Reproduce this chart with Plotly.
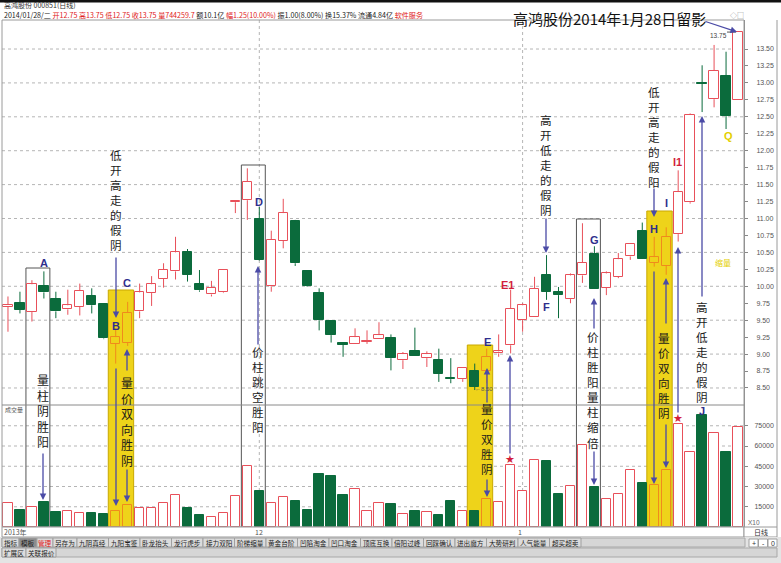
import numpy as np
import plotly.graph_objects as go

# ---------------- data ----------------
candle_idx = list(range(1, 63))
open_ = [9.70, 9.76, 9.62, 10.00, 9.82, 9.66, 9.70, 9.85, 9.74, 9.15,
         9.17, 9.63, 9.90, 10.11, 10.22, 10.50, 10.04, 9.88, 9.91, 11.24,
         11.27, 11.00, 10.00, 10.67, 10.96, 10.22, 9.90, 9.49, 9.17, 9.15,
         9.18, 9.22, 9.24, 8.91, 9.04, 8.94, 8.92, 8.65, 8.63, 8.75,
         8.75, 9.01, 9.13, 9.50, 9.54, 10.16, 9.92, 9.81, 10.16, 10.48,
         9.98, 10.14, 10.44, 10.81, 10.35, 10.30, 10.77, 11.24, 13.00, 12.76,
         13.10, 12.75]
high = [9.85, 9.92, 10.09, 10.22, 9.92, 9.95, 10.04, 9.97, 9.75, 9.38,
        9.77, 10.04, 10.15, 10.34, 10.73, 10.55, 10.24, 10.08, 10.25, 11.25,
        11.74, 11.17, 10.82, 11.29, 10.98, 10.22, 9.97, 9.49, 9.17, 9.38,
        9.35, 9.47, 9.29, 9.03, 9.39, 9.04, 9.08, 8.94, 8.80, 8.86,
        9.08, 9.29, 9.95, 9.75, 10.14, 10.46, 9.99, 10.19, 10.93, 10.59,
        10.22, 10.49, 10.62, 10.94, 10.73, 10.87, 11.71, 12.55, 13.26, 13.56,
        13.46, 13.75]
low = [9.33, 9.60, 9.48, 9.82, 9.53, 9.58, 9.57, 9.60, 9.22, 8.86,
       9.12, 9.53, 9.71, 9.98, 10.10, 10.07, 9.92, 9.85, 9.90, 11.08,
       10.98, 10.38, 9.92, 10.56, 10.30, 9.99, 9.35, 9.17, 8.96, 9.15,
       9.15, 9.22, 8.76, 8.78, 8.97, 8.81, 8.59, 8.57, 8.59, 8.47,
       8.57, 8.96, 9.01, 9.33, 9.54, 9.80, 9.53, 9.75, 10.05, 9.96,
       9.87, 10.12, 10.39, 10.41, 10.29, 10.17, 10.66, 11.22, 12.57, 12.64,
       12.32, 12.75]
close = [9.73, 9.65, 10.03, 9.91, 9.63, 9.72, 9.93, 9.72, 9.23, 9.25,
         9.61, 9.91, 10.03, 10.24, 10.50, 10.17, 9.94, 9.98, 10.24, 11.25,
         11.54, 10.39, 10.69, 11.08, 10.34, 10.00, 9.50, 9.28, 9.14, 9.25,
         9.20, 9.28, 8.94, 9.00, 8.97, 9.00, 8.71, 8.63, 8.80, 8.52,
         8.96, 9.04, 9.67, 9.72, 9.96, 9.92, 9.87, 10.16, 10.35, 9.96,
         10.19, 10.40, 10.62, 10.41, 10.43, 10.73, 11.39, 12.53, 12.99, 13.18,
         12.51, 13.75]
volume = [17800, 12800, 14800, 18200, 11100, 11600, 10400, 10400, 9900, 12100,
          16500, 14100, 14100, 17800, 23900, 14100, 9100, 7100, 10400, 23200,
          45400, 26400, 17800, 22200, 19000, 12800, 39300, 38000, 23900, 27900,
          11600, 17500, 16800, 9600, 11800, 11400, 9000, 19000, 11800, 11800,
          20700, 18500, 45600, 26400, 49800, 48600, 24700, 30600, 60400, 29300,
          20400, 24400, 41900, 32600, 30800, 42400, 76300, 55600, 82700, 69600,
          55800, 74100]

price_ticks = [8.50, 8.75, 9.00, 9.25, 9.50, 9.75, 10.00, 10.25, 10.50, 10.75,
               11.00, 11.25, 11.50, 11.75, 12.00, 12.25, 12.50, 12.75, 13.00,
               13.25, 13.50]
price_grid = [8.5, 9.0, 9.5, 10.0, 10.5, 11.0, 11.5, 12.0, 12.5, 13.0, 13.5]
vol_ticks = [15000, 30000, 45000, 60000, 75000]
month_labels = ["2013年", "12", "1"]
month_idx = [1, 22, 44]
highlight_idx = [10, 11, 41, 55, 56]   # up candles inside the yellow boxes
tab_labels = ["指标", "模板", "管理", "另存为", "九阴真经", "九阳宝鉴", "卧龙抬头",
              "龙行虎步", "接力双阳", "阶梯缩量", "黄金台阶", "凹陷淘金", "凹口淘金",
              "顶底互换", "倍阳过峰", "回踩确认", "进出魔方", "大势研判", "人气能量",
              "超买超卖"]
tab_widths = [17, 18, 16, 24] + [31.5] * 16
stock_name = "高鸿股份"
stock_code = "000851"
title_text = "高鸿股份2014年1月28日留影"

# ---------------- style ----------------
UP = "#E8505A"
DOWN = "#0B6B3C"
HL = "#F08A1C"
YEL = "#EED31A"
ARW = "#4B4BA6"
LBL = "#2E2E8C"
RED = "#D21F3C"
CJK = "Noto Sans CJK SC"
W, H = 781, 563
L, R, T, B = 2, 37, 20, 36
PW, PH = W - L - R, H - T - B
VOL_FRAC = 122 / PH


def P(x):
    return (x - L) / PW


def Q(y):
    return (H - B - y) / PH


fig = go.Figure()

groups = {"up": [], "hl": [], "down": []}
for k, i in enumerate(candle_idx):
    if close[k] < open_[k]:
        groups["down"].append(k)
    elif i in highlight_idx:
        groups["hl"].append(k)
    else:
        groups["up"].append(k)

style = {"up": (UP, "white"), "hl": (HL, "rgba(0,0,0,0)"), "down": (DOWN, DOWN)}

for g, ks in groups.items():
    lc, fc = style[g]
    xs = [candle_idx[k] for k in ks]
    base = [min(open_[k], close[k]) for k in ks]
    hgt = [max(abs(close[k] - open_[k]), 0.012) for k in ks]
    wx, wy = [], []
    for k in ks:
        top = max(open_[k], close[k])
        bot = min(open_[k], close[k])
        if high[k] > top:
            wx += [candle_idx[k], candle_idx[k], None]
            wy += [top, high[k], None]
        if low[k] < bot:
            wx += [candle_idx[k], candle_idx[k], None]
            wy += [bot, low[k], None]
    fig.add_trace(go.Scatter(x=wx, y=wy, mode="lines", line=dict(color=lc, width=1),
                             hoverinfo="skip", yaxis="y"))
    fig.add_trace(go.Bar(x=xs, y=hgt, base=base, width=0.78, yaxis="y",
                         marker=dict(color=fc, line=dict(color=lc, width=1))))
    fig.add_trace(go.Bar(x=xs, y=[volume[k] for k in ks], width=0.78, yaxis="y2",
                         marker=dict(color=fc, line=dict(color=lc, width=1))))

shapes = []
for v in price_grid:
    shapes.append(dict(type="line", xref="paper", yref="y", x0=0, x1=1, y0=v, y1=v,
                       line=dict(color="#b5b5b5", width=1, dash="dot"), layer="below"))
for v in vol_ticks:
    shapes.append(dict(type="line", xref="paper", yref="y2", x0=0, x1=1, y0=v, y1=v,
                       line=dict(color="#b5b5b5", width=1, dash="dot"), layer="below"))
for i in month_idx[1:]:
    shapes.append(dict(type="line", xref="x", yref="paper", x0=i, x1=i, y0=0, y1=1,
                       line=dict(color="#b5b5b5", width=1, dash="dot"), layer="below"))

for a, b, top in [(10, 11, 290), (40, 41, 345), (55, 56, 211)]:
    shapes.append(dict(type="rect", xref="x", yref="paper", x0=a - 0.62, x1=b + 0.5,
                       y0=Q(530), y1=Q(top), fillcolor=YEL,
                       line=dict(color="#C9A800", width=1), layer="below"))
for a, b, top in [(3, 4, 268), (21, 22, 165), (49, 50, 219)]:
    shapes.append(dict(type="rect", xref="x", yref="paper", x0=a - 0.5, x1=b + 0.5,
                       y0=Q(530), y1=Q(top), fillcolor="rgba(0,0,0,0)",
                       line=dict(color="#555555", width=1), layer="below"))

shapes.append(dict(type="rect", xref="paper", yref="paper", x0=0, x1=1, y0=0, y1=1,
                   line=dict(color="#9a9a9a", width=1)))
shapes.append(dict(type="line", xref="paper", yref="paper", x0=0, x1=1, y0=VOL_FRAC,
                   y1=VOL_FRAC, line=dict(color="#8a8a8a", width=1)))
shapes.append(dict(type="line", xref="paper", yref="paper", x0=P(777), x1=P(777),
                   y0=Q(527), y1=Q(20), line=dict(color="#9a9a9a", width=1)))
shapes.append(dict(type="rect", xref="paper", yref="paper", x0=P(0), x1=P(781),
                   y0=Q(2.5), y1=Q(0), fillcolor="#111111", line=dict(width=0)))
shapes.append(dict(type="rect", xref="paper", yref="paper", x0=P(2), x1=P(744),
                   y0=Q(537), y1=Q(527), fillcolor="white", line=dict(color="#9a9a9a", width=1)))
shapes.append(dict(type="rect", xref="paper", yref="paper", x0=P(744), x1=P(777),
                   y0=Q(537), y1=Q(527), fillcolor="white", line=dict(color="#9a9a9a", width=1)))
shapes.append(dict(type="rect", xref="paper", yref="paper", x0=P(0), x1=P(781),
                   y0=Q(563), y1=Q(537), fillcolor="#e4e4e4", line=dict(width=0)))
shapes.append(dict(type="rect", xref="paper", yref="paper", x0=P(2), x1=P(745),
                   y0=Q(547), y1=Q(538), fillcolor="#d6d6d6", line=dict(color="#a8a8a8", width=1)))
shapes.append(dict(type="rect", xref="paper", yref="paper", x0=P(2), x1=P(777),
                   y0=Q(557), y1=Q(548), fillcolor="#d6d6d6", line=dict(color="#a8a8a8", width=1)))
shapes.append(dict(type="line", xref="paper", yref="y", x0=P(727), x1=P(736),
                   y0=high[-1], y1=high[-1], line=dict(color="#555", width=1)))

ann = []


def txt(s, x, y, size=8, color="#222", anchor="center", family=CJK, bold=False):
    if bold:
        s = "<b>" + s + "</b>"
    ann.append(dict(text=s, x=P(x), y=Q(y), xref="paper", yref="paper", showarrow=False,
                    xanchor=anchor, yanchor="middle", borderpad=0,
                    font=dict(size=size, color=color, family=family)))


def vtext(s, x, y0, size=11.6, color="#1a1a1a"):
    # vertical text: one character per line; y0 = centre of first character
    step = 1.3 * size
    yc = y0 + (len(s) - 1) * step / 2
    txt("<br>".join(list(s)), x, yc, size=size, color=color)


def arrow(x0, y0, x1, y1, color=ARW):
    ann.append(dict(text="", x=P(x1), y=Q(y1), ax=x0 - x1, ay=y0 - y1, xref="paper",
                    yref="paper", axref="pixel", ayref="pixel", showarrow=True,
                    arrowhead=2, arrowsize=1, arrowwidth=1.3, arrowcolor=color, standoff=0))


txt(f"{stock_name} {stock_code}(日线)", 3, 5, size=7, color="#333", anchor="left")
hdr = (f"2014/01/28/二 <span style='color:#e02020'>开{open_[-1]:.2f} 高{high[-1]:.2f} "
       f"低{low[-1]:.2f} 收{close[-1]:.2f} 量744259.7</span> 额10.1亿 "
       f"<span style='color:#e02020'>幅1.25(10.00%)</span> 振1.00(8.00%) 换15.37% 流通4.84亿 "
       f"<span style='color:#e02020'>软件服务</span>")
txt(hdr, 3, 14.8, size=7.1, color="#222", anchor="left")
txt("◇□", 737, 15, size=7, color="#888")
txt(title_text, 609, 19, size=15, color="#111")
arrow(704, 21, 737, 32)
txt(f"{high[-1]:.2f}", 718, 35, size=6.5, color="#444", family="Liberation Sans")

vtext("量柱阴胜阳", 43, 379, size=12)
vtext("低开高走的假阴", 116, 155)
vtext("量价双向胜阴", 127, 382, size=12)
vtext("价柱跳空胜阳", 258, 352)
vtext("量价双胜阴", 487, 409)
vtext("高开低走的假阴", 546, 120)
vtext("价柱胜阳量柱缩倍", 593, 337)
vtext("低开高走的假阳", 654, 92)
vtext("量价双向胜阴", 664, 338)
vtext("高开低走的假阴", 702, 307)

arrow(43, 452, 43, 500)
arrow(116, 256, 116, 318)
arrow(116, 367, 116, 506)
arrow(127, 372, 127, 349)
arrow(127, 468, 127, 502)
arrow(258, 346, 258, 266)
arrow(487, 404, 487, 368)
arrow(487, 478, 487, 497)
arrow(510, 455, 510, 355)
arrow(546, 217, 546, 253)
arrow(594, 330, 594, 298)
arrow(594, 450, 594, 485)
arrow(654, 187, 654, 217)
arrow(654, 270, 654, 484)
arrow(666, 325, 666, 278)
arrow(666, 423, 666, 468)
arrow(678, 414, 678, 247)
arrow(702, 298, 702, 116)

for s, x, y, c in [("A", 44, 263, LBL), ("B", 116, 326, LBL), ("C", 127, 283, LBL),
                   ("D", 259, 202, LBL), ("E", 487, 342, LBL), ("E1", 507, 285, RED),
                   ("F", 546, 307, LBL), ("G", 594, 240, LBL), ("H", 654, 229, LBL),
                   ("I", 666, 203, LBL), ("I1", 677, 162, RED), ("J", 702, 411, LBL),
                   ("Q", 728, 136, "#E3CF00")]:
    txt(s, x, y, size=11, color=c, family="Liberation Sans", bold=True)
txt("★", 510, 459, size=11, color=RED, family="DejaVu Sans")
txt("★", 678, 418, size=11, color=RED, family="DejaVu Sans")
txt("←8.50", 484, 389, size=6, color="#555", family="Liberation Sans")
txt("缩量", 723, 262, size=8, color="#E3CF00")
txt("成交量", 4, 410, size=6, color="#555", anchor="left")
txt("X10", 754, 522, size=6.5, color="#666", family="Liberation Sans")

for lab, i in zip(month_labels, month_idx):
    ann.append(dict(text=lab, x=i - 0.45, xref="x", y=Q(532), yref="paper", showarrow=False,
                    xanchor="left", yanchor="middle", borderpad=0,
                    font=dict(size=7, color="#555", family=CJK)))
txt("日线", 761, 532, size=7, color="#333")

x = 2
for lab, w in zip(tab_labels, tab_widths):
    fill = "#8c8c8c" if lab == "模板" else "#dcdcdc"
    shapes.append(dict(type="rect", xref="paper", yref="paper", x0=P(x), x1=P(x + w),
                       y0=Q(547), y1=Q(538), fillcolor=fill,
                       line=dict(color="#a0a0a0", width=1)))
    col = "#e02020" if lab == "管理" else "#222"
    txt(lab, x + w / 2, 542.5, size=6.6, color=col)
    x += w
for lab, x0, w in [("扩展区", 2, 24), ("关联报价", 26, 30)]:
    shapes.append(dict(type="rect", xref="paper", yref="paper", x0=P(x0), x1=P(x0 + w),
                       y0=Q(557), y1=Q(548), fillcolor="#dcdcdc",
                       line=dict(color="#a0a0a0", width=1)))
    txt(lab, x0 + w / 2, 552.5, size=6.6, color="#222")
for k, lab in enumerate(["+", "-", "0"]):
    x0 = 749 + k * 9.5
    shapes.append(dict(type="rect", xref="paper", yref="paper", x0=P(x0), x1=P(x0 + 9),
                       y0=Q(547), y1=Q(539), fillcolor="white",
                       line=dict(color="#a0a0a0", width=1)))
    txt(lab, x0 + 4.5, 543, size=7, color="#333", family="Liberation Sans")

fig.update_layout(
    width=W, height=H, margin=dict(l=L, r=R, t=T, b=B),
    paper_bgcolor="white", plot_bgcolor="rgba(0,0,0,0)",
    showlegend=False, barmode="overlay", bargap=0,
    shapes=shapes, annotations=ann,
    xaxis=dict(range=[0.5, 62.5], showgrid=False, zeroline=False, showticklabels=False,
               showline=False, ticks="", anchor="y2"),
    yaxis=dict(domain=[VOL_FRAC, 1], range=[8.249, 13.928], side="right", anchor="x",
               tickvals=price_ticks, ticktext=[f"{v:.2f}" for v in price_ticks],
               ticks="outside", ticklen=3, tickcolor="#888", showgrid=False, zeroline=False,
               showline=True, linecolor="#8a8a8a", ticklabelstandoff=7,
               tickfont=dict(size=7, color="#555", family="Liberation Sans")),
    yaxis2=dict(domain=[0, VOL_FRAC], range=[0, 90370], side="right", anchor="x",
                tickvals=vol_ticks, ticktext=[str(v) for v in vol_ticks],
                ticks="outside", ticklen=3, tickcolor="#888", showgrid=False, zeroline=False,
                showline=True, linecolor="#8a8a8a", ticklabelstandoff=5,
                tickfont=dict(size=7, color="#555", family="Liberation Sans")),
)

fig.write_html("out.html")
